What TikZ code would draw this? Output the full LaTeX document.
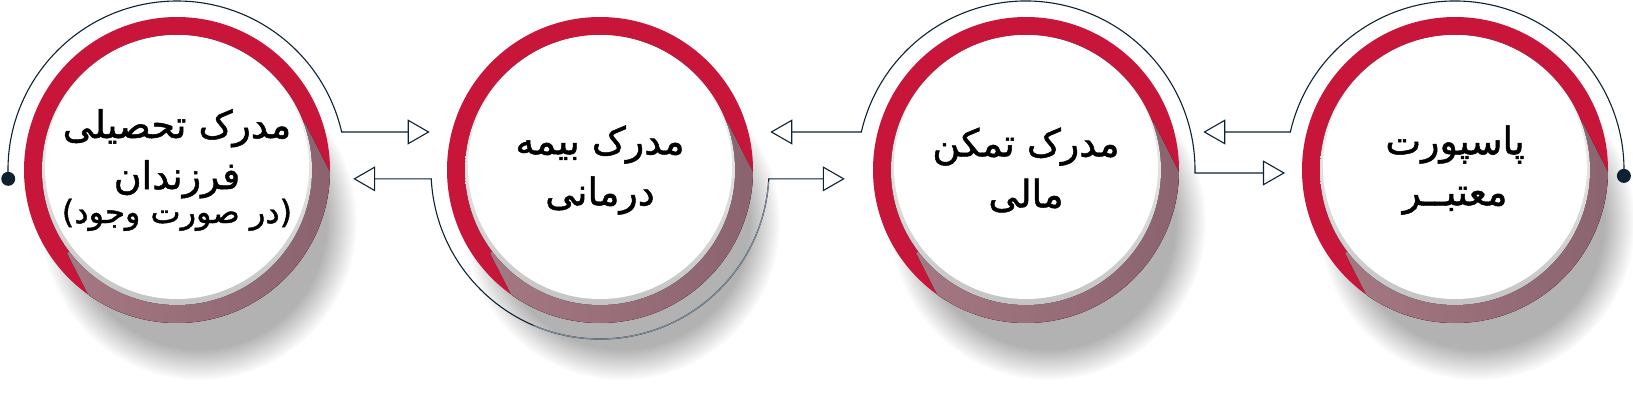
\documentclass[tikz,border=0pt]{standalone}
\usepackage{fontspec}
\newfontfamily\farsi[Script=Arabic,FakeBold=1.3]{DejaVu Sans}
\TeXXeTstate=1
\usepackage{tikz}
\usetikzlibrary{positioning,calc,arrows.meta,fadings,backgrounds}

\definecolor{ringred}{HTML}{C8153A}
\definecolor{navy}{HTML}{0E2132}
\definecolor{fadednavy}{HTML}{7D8A99}
\definecolor{mauvelt}{HTML}{A47882}
\definecolor{mauvedk}{HTML}{805B67}
\definecolor{rimgray}{HTML}{C4C4C4}

\tikzset{
  doc/.style={circle, minimum size=264pt, inner sep=0pt, align=center,
    font=\farsi\fontsize{38}{51}\selectfont},
  link/.style={draw=navy, line width=1.1pt},
  dot/.style={fill=navy}
}

\begin{document}
\begin{tikzpicture}[x=1pt, y=-1pt, on grid, >={Triangle[open,length=22pt,width=25pt]}]
   \useasboundingbox (0,0) rectangle (1633,417);
   \node[doc] (c1) at (177,170) {\beginR مدرک تحصیلی\endR\\\beginR فرزندان\endR\\[-17pt]
      {\fontsize{32}{36}\selectfont\beginR (در صورت وجود)\endR}};
   \node[doc] (c2) [right=423pt of c1] {\beginR مدرک بیمه\endR\\\beginR درمانی\endR};
   \node[doc] (c3) [right=426pt of c2] {\beginR مدرک تمکن\endR\\\beginR مالی\endR};
   \node[doc] (c4) [right=429pt of c3] {\beginR پاسپورت\endR\\\beginR معتبــر\endR};

   % rings and shadows behind the text
   \begin{scope}[on background layer]
   \foreach \c in {c1,c2,c3,c4}{
      \fill[black!30, path fading=circle with fuzzy edge 20 percent] ($(\c)+(22,52)$) circle (158);
      \fill[ringred] (\c) circle (153);
      \begin{scope}
         \clip (\c) circle (153);
         \fill[left color=mauvelt, right color=mauvedk] ($(\c)+(128,-47)$) -- ($(\c)+(128,-47)+(63:300)$)
            -- ($(\c)+(-110,83)+(63:300)$) -- ($(\c)+(-110,83)$) -- cycle;
      \end{scope}
      \fill[top color=white, bottom color=rimgray] (\c) circle (135);
      \fill[white] ($(\c)+(0,-3)$) circle (132);
   }
   \end{scope}

   % connectors
   \draw[link, ->] ($(c1)+(177:169)$) arc[start angle=177, end angle=347, radius=169] -- ++(88,0);
   \fill[dot] ($(c1)+(177:169)$) circle (7);
   \draw[link, <->] ($(c2)+(177:169)+(-78,0)$) -- ++(78,0)
      arc[start angle=177, end angle=3, radius=169] -- ++(76,0);
   \draw[fadednavy, line width=1.1pt] ($(c2)+(113:169)$) arc[start angle=113, end angle=4, radius=169];
   \draw[link, <->] ($(c3)+(193:169)+(-91,0)$) -- ++(91,0)
      arc[start angle=193, end angle=361, radius=169] -- ++(90,0);
   \draw[link, <-] ($(c4)+(193:169)+(-87,0)$) -- ++(87,0)
      arc[start angle=193, end angle=362, radius=169];
   \fill[dot] ($(c4)+(362:169)$) circle (7);
\end{tikzpicture}
\end{document}
